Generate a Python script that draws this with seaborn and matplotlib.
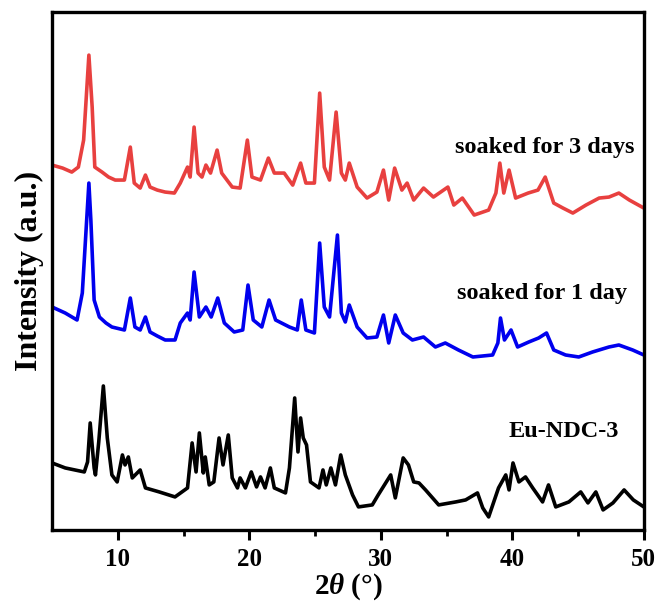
import numpy as np
import pandas as pd
import matplotlib
matplotlib.use("Agg")
import matplotlib.pyplot as plt
import seaborn as sns

# ---- data (2theta in degrees, intensity in arbitrary offset units) ----
red_x = [5.0, 5.8, 6.5, 7.0, 7.4, 7.8, 8.05, 8.25, 8.8, 9.3, 9.8, 10.5, 10.95, 11.25, 11.7, 12.1, 12.45,
         13.0, 13.6, 14.3, 14.75, 15.3, 15.5, 15.8, 16.1, 16.4, 16.7, 17.05, 17.55, 17.9, 18.7, 19.3,
         19.85, 20.2, 20.85, 21.45, 21.9, 22.65, 23.3, 23.9, 24.3, 24.95, 25.35, 25.7, 26.1, 26.6,
         27.0, 27.3, 27.6, 28.2, 28.95, 29.7, 30.2, 30.6, 31.05, 31.6, 32.0, 32.5, 33.25, 34.0,
         35.1, 35.55, 36.2, 37.1, 38.2, 38.75, 39.05, 39.35, 39.75, 40.25, 41.2, 41.95, 42.5,
         43.15, 43.85, 44.6, 45.6, 46.6, 47.35, 48.1, 48.9, 50.0]
red_y = [365, 362, 358, 363, 390, 475, 423, 363, 358, 353, 350, 350, 383, 347, 342, 355, 343,
         340, 338, 337, 347, 363, 353, 403, 357, 353, 365, 357, 380, 357, 343, 342,
         390, 353, 350, 372, 357, 357, 345, 367, 347, 347, 437, 363, 350, 418,
         357, 350, 367, 343, 332, 338, 360, 330, 362, 340, 347, 330, 342, 333,
         343, 325, 332, 315, 320, 337, 367, 337, 360, 332, 337, 340, 353,
         327, 322, 317, 325, 332, 333, 337, 330, 322]

blue_x = [5.0, 6.0, 6.9, 7.3, 7.6, 7.8, 7.95, 8.2, 8.6, 9.1, 9.55, 10.5, 10.95, 11.3, 11.7, 12.1,
          12.45, 13.0, 13.6, 14.35, 14.75, 15.3, 15.5, 15.8, 16.2, 16.7, 17.1, 17.6, 18.1, 18.85, 19.5,
          19.9, 20.3, 20.95, 21.5, 22.0, 23.05, 23.65, 23.95, 24.3, 24.95, 25.35, 25.7, 26.1,
          26.7, 27.0, 27.3, 27.6, 28.2, 28.95, 29.7, 30.2, 30.6, 31.1, 31.7, 32.4, 33.25, 34.15,
          34.9, 35.9, 37.0, 38.5, 38.9, 39.1, 39.4, 39.9, 40.4, 41.25, 42.0, 42.6, 43.15, 44.05,
          45.05, 46.1, 47.35, 48.1, 49.15, 50.0]
blue_y = [223, 217, 210, 237, 303, 347, 310, 230, 213, 207, 203, 200, 232, 203, 200, 213,
          198, 194, 190, 190, 207, 217, 210, 258, 213, 223, 213, 232, 207, 198, 200,
          245, 210, 203, 230, 210, 203, 200, 230, 200, 197, 287, 223, 213,
          295, 217, 208, 225, 203, 192, 193, 215, 187, 215, 197, 190, 193, 183,
          187, 180, 173, 175, 187, 212, 190, 200, 183, 188, 192, 197, 180, 175,
          173, 178, 183, 185, 180, 175]

black_x = [5.0, 6.0, 7.45, 7.7, 7.9, 8.2, 8.3, 8.55, 8.9, 9.2, 9.55, 9.95, 10.35, 10.55, 10.8,
           11.1, 11.7, 12.1, 13.15, 14.35, 15.3, 15.65, 15.95, 16.2, 16.5, 16.65, 16.95, 17.3,
           17.7, 18.0, 18.4, 18.7, 19.1, 19.3, 19.7, 20.15, 20.55, 20.85, 21.2, 21.6, 21.9, 22.75,
           23.05, 23.45, 23.7, 23.9, 24.1, 24.35, 24.65, 25.3, 25.6, 25.85, 26.2, 26.55, 26.95,
           27.3, 27.85, 28.3, 29.35, 29.8, 30.75, 31.1, 31.7, 32.1, 32.5, 32.9, 33.4, 34.4, 35.7,
           36.45, 37.35, 37.75, 38.2, 38.95, 39.5, 39.75, 40.05, 40.5, 41.0, 41.55, 42.3, 42.75,
           43.3, 44.3, 45.2, 45.75, 46.35, 46.9, 47.65, 48.5, 49.2, 50.0]
black_y = [67, 62, 58, 68, 107, 62, 55, 88, 144, 92, 55, 48, 75, 65, 73,
           52, 60, 42, 38, 33, 42, 87, 58, 97, 57, 73, 45, 48,
           92, 65, 95, 52, 42, 52, 42, 58, 43, 53, 42, 62, 42, 37,
           62, 132, 78, 112, 92, 85, 48, 42, 60, 45, 62, 45, 75,
           55, 35, 23, 25, 35, 55, 32, 72, 65, 48, 47, 40, 25, 28,
           30, 37, 22, 13, 42, 55, 40, 67, 48, 53, 42, 28, 45,
           23, 28, 38, 27, 38, 20, 27, 40, 30, 23]

labels = ["soaked for 3 days", "soaked for 1 day", "Eu-NDC-3"]
colors = ["#e8403f", "#0000ee", "#000000"]
x_ticks = [10, 20, 30, 40, 50]

# ---- styling ----
sns.set_style("ticks")
plt.rcParams["font.family"] = ["Liberation Serif", "DejaVu Serif"]
plt.rcParams["font.weight"] = "bold"
plt.rcParams["mathtext.fontset"] = "custom"
plt.rcParams["mathtext.rm"] = "Liberation Serif:bold"
plt.rcParams["mathtext.it"] = "Liberation Serif:italic:bold"
plt.rcParams["text.color"] = "black"
plt.rcParams["axes.labelcolor"] = "black"
plt.rcParams["axes.edgecolor"] = "black"
plt.rcParams["xtick.color"] = "black"
plt.rcParams["xtick.labelcolor"] = "black"

frames = []
for lab, xs, ys in zip(labels, [red_x, blue_x, black_x], [red_y, blue_y, black_y]):
    frames.append(pd.DataFrame({"two_theta": xs, "intensity": ys, "sample": lab}))
df = pd.concat(frames, ignore_index=True)

fig = plt.figure(figsize=(6.59, 6.07), dpi=100)
ax = fig.add_axes([0.079, 0.127, 0.898, 0.853])

sns.lineplot(data=df, x="two_theta", y="intensity", hue="sample", hue_order=labels,
             palette=colors, sort=False, estimator=None, linewidth=2.6, legend=False, ax=ax)

ax.set_xlim(5, 50)
ax.set_ylim(0, 518)
ax.set_xticks(x_ticks)
ax.set_xticks([15, 25, 35, 45], minor=True)
ax.set_yticks([])
ax.tick_params(axis="x", which="major", direction="out", length=7, width=2.2,
               labelsize=18, pad=6, top=False, color="black", labelcolor="black")
ax.tick_params(axis="x", which="minor", direction="out", length=4, width=2.0, top=False,
               color="black")
for lab in ax.get_xticklabels():
    lab.set_fontweight("bold")
for sp in ax.spines.values():
    sp.set_linewidth(2.4)
    sp.set_color("black")
    sp.set_visible(True)

ax.set_xlabel(r"2$\mathit{\theta}$ (°)", fontsize=21, fontweight="bold", labelpad=0, color="black")
ax.set_ylabel("Intensity (a.u.)", fontsize=23, fontweight="bold", labelpad=6, color="black")

ax.text(49.3, 383, labels[0], ha="right", va="center", fontsize=17.5, fontweight="bold", color="black")
ax.text(48.7, 237, labels[1], ha="right", va="center", fontsize=17.5, fontweight="bold", color="black")
ax.text(48.1, 98, labels[2], ha="right", va="center", fontsize=17.5, fontweight="bold", color="black")

fig.savefig("out.png", dpi=100)
